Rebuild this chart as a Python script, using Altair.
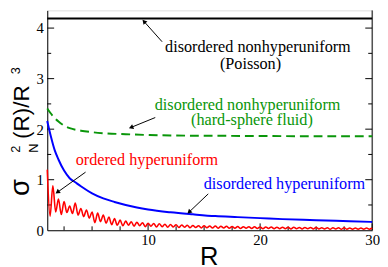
import math
import altair as alt
import pandas as pd

# ---------------- data ----------------
red_R = [1.0 + 0.25 * i for i in range(117)]
red_y = [1.20, 0.28, 0.88, 0.36, 0.62, 0.31, 0.57, 0.35, 0.48, 0.33,
         0.54, 0.30, 0.43, 0.27, 0.40, 0.24, 0.36, 0.15, 0.34, 0.17,
         0.30, 0.14, 0.26, 0.11, 0.23, 0.10, 0.20, 0.09, 0.18, 0.10,
         0.17, 0.08, 0.16, 0.09, 0.15, 0.07, 0.14, 0.08, 0.135, 0.065,
         0.13, 0.07, 0.12, 0.06, 0.115, 0.065, 0.11, 0.055, 0.105, 0.06,
         0.10, 0.05, 0.095, 0.055, 0.09, 0.045, 0.09, 0.05, 0.085, 0.045,
         0.085, 0.04, 0.08, 0.045, 0.08, 0.04, 0.075, 0.04, 0.075, 0.035,
         0.07, 0.04, 0.07, 0.035, 0.07, 0.035, 0.065, 0.03, 0.065, 0.035,
         0.065, 0.03, 0.06, 0.03, 0.06, 0.03, 0.06, 0.025, 0.06, 0.03,
         0.055, 0.025, 0.055, 0.03, 0.055, 0.025, 0.055, 0.025, 0.05, 0.025,
         0.05, 0.02, 0.05, 0.025, 0.05, 0.02, 0.05, 0.02, 0.045, 0.02,
         0.045, 0.02, 0.045, 0.02, 0.045, 0.02, 0.045]

blue_R = [1.0, 1.33, 1.67, 2.0, 2.5, 3.0, 3.5, 4.0, 5.0, 6.0, 7.0, 8.0,
          9.0, 10.0, 12.0, 14.0, 16.0, 18.0, 20.0, 22.0, 25.0, 28.0, 30.0]
blue_y = [2.16, 1.85, 1.58, 1.40, 1.18, 1.03, 0.95, 0.87, 0.73, 0.63, 0.56, 0.50,
          0.45, 0.41, 0.355, 0.315, 0.28, 0.26, 0.24, 0.22, 0.20, 0.18, 0.165]

green_R = [1.0, 1.25, 1.5, 2.0, 2.5, 3.0, 4.0, 5.0, 6.0, 8.0, 10.0, 12.0,
           15.0, 20.0, 25.0, 30.0]
green_y = [2.41, 2.33, 2.26, 2.15, 2.07, 2.02, 1.97, 1.94, 1.92, 1.90, 1.885,
           1.875, 1.87, 1.865, 1.86, 1.86]

poisson_R = [1.0, 30.0]
poisson_y = [4.19, 4.19]

x_major = [10, 20, 30]
x_minor = [2.5, 5, 7.5, 12.5, 15, 17.5, 22.5, 25, 27.5]
y_labels = [0, 1, 2, 3, 4]
y_major = [1, 2, 3, 4]
y_minor = [0.5, 1.5, 2.5, 3.5]

label_text = ["disordered nonhyperuniform", "(Poisson)",
              "disordered nonhyperuniform", "(hard-sphere fluid)",
              "ordered hyperuniform", "disordered hyperuniform"]
label_R = [19.80, 19.14, 18.88, 19.27, 9.9, 22.17]
label_y = [3.53, 3.20, 2.38, 2.09, 1.30, 0.82]
label_color = ["black", "black", "#0a960a", "#0a960a", "red", "blue"]

arrow_R0 = [11.25, 10.64, 4.42, 15.37]
arrow_y0 = [3.73, 2.23, 1.15, 0.72]
arrow_R1 = [9.68, 8.54, 1.96, 13.71]
arrow_y1 = [4.12, 2.04, 0.76, 0.37]

# ---------------- layout ----------------
W, H = 331, 224
XMIN, XMAX = 1, 30
YMIN, YMAX = 0, 4.35
SERIF = "Liberation Serif"
SANS = "Liberation Sans"

xs = alt.Scale(domain=[XMIN, XMAX], nice=False, zero=False)
ys = alt.Scale(domain=[YMIN, YMAX], nice=False, zero=False)

AXX = alt.Axis(values=x_major, ticks=False, grid=False, title=None,
               labelFont=SERIF, labelFontSize=15, labelColor="black",
               labelPadding=3, labelFlush=False, labelOverlap=False,
               domainColor="black", domainWidth=1)
AXY = alt.Axis(values=y_labels, ticks=False, grid=False, title=None,
               labelFont=SERIF, labelFontSize=15, labelColor="black",
               labelPadding=4, labelFlush=False, labelOverlap=False,
               domainColor="black", domainWidth=1)

px_x = W / (XMAX - XMIN)
px_y = H / (YMAX - YMIN)


def line_df(R, y):
    return pd.DataFrame({"R": R, "y": y})


def XF(f):
    return alt.X(f, type="quantitative", scale=xs, axis=AXX)


def YF(f):
    return alt.Y(f, type="quantitative", scale=ys, axis=AXY)


right_border = alt.Chart(line_df([XMAX], [0])).mark_rule(color="black", strokeWidth=1).encode(
    x=XF("R"), y=alt.value(0), y2=alt.value(H))

poisson = alt.Chart(line_df(poisson_R, poisson_y)).mark_line(
    color="black", strokeWidth=2).encode(x=XF("R"), y=YF("y"))
green = alt.Chart(line_df(green_R, green_y)).mark_line(
    color="#0a960a", strokeWidth=2, strokeDash=[9, 5], interpolate="monotone").encode(
    x=XF("R"), y=YF("y"))
blue = alt.Chart(line_df(blue_R, blue_y)).mark_line(
    color="blue", strokeWidth=2, interpolate="monotone").encode(x=XF("R"), y=YF("y"))
red = alt.Chart(line_df(red_R, red_y)).mark_line(
    color="red", strokeWidth=1.6, interpolate="monotone").encode(x=XF("R"), y=YF("y"))


def tick_layers(vals, axis, length):
    df = pd.DataFrame({"v": vals})
    out = []
    if axis == "x":
        out.append(alt.Chart(df).mark_rule(color="black", strokeWidth=1).encode(
            x=XF("v"), y=alt.value(H), y2=alt.value(H - length)))
    else:
        for x0, x1 in [(0, length), (W, W - length)]:
            out.append(alt.Chart(df).mark_rule(color="black", strokeWidth=1).encode(
                y=YF("v"), x=alt.value(x0), x2=alt.value(x1)))
    return out


ticks = (tick_layers(x_major, "x", 7) + tick_layers(x_minor, "x", 4)
         + tick_layers(y_major, "y", 7) + tick_layers(y_minor, "y", 4))

labels_df = pd.DataFrame({"R": label_R, "y": label_y, "t": label_text, "c": label_color})
labels = alt.Chart(labels_df).mark_text(
    font=SERIF, fontSize=16.5, align="center", baseline="alphabetic").encode(
    x=XF("R"), y=YF("y"), text="t:N", color=alt.Color("c:N", scale=None))

ang = []
for a, b, c, d in zip(arrow_R0, arrow_y0, arrow_R1, arrow_y1):
    dx = (c - a) * px_x
    dy = -(d - b) * px_y
    ang.append(math.degrees(math.atan2(dx, -dy)) % 360)
arrows_df = pd.DataFrame({"R": arrow_R0, "y": arrow_y0, "R2": arrow_R1, "y2": arrow_y1, "ang": ang})
arrow_lines = alt.Chart(arrows_df).mark_rule(color="black", strokeWidth=1).encode(
    x=XF("R"), y=YF("y"), x2="R2:Q", y2="y2:Q")
arrow_heads = alt.Chart(arrows_df).mark_point(
    shape="triangle", filled=True, color="black", size=28, opacity=1).encode(
    x=XF("R2"), y=YF("y2"), angle=alt.Angle("ang:Q", scale=None))

dummy = pd.DataFrame({"d": [0]})


def free_text(t, px, py, fs, angle=0, align="left", font=SANS):
    return alt.Chart(dummy).mark_text(
        font=font, fontSize=fs, angle=angle, align=align, baseline="alphabetic",
        color="black", text=t).encode(x=alt.value(px), y=alt.value(py))


# y-axis title: sigma^2_N(R)/R^3, rotated
ytitle = [
    free_text("σ", -19, 189, 28, 270),
    free_text("(R)/R", -19, 131, 23, 270),
    free_text("2", -28, 145, 13, 270),
    free_text("N", -9, 145, 13, 270),
    free_text("3", -28, 65, 13, 270),
]
xtitle = free_text("R", 165, 259, 26, 0, "center")

chart = alt.layer(
    right_border, *ticks, poisson, green, blue, red,
    arrow_lines, arrow_heads, labels, *ytitle, xtitle
).properties(
    width=W, height=H,
    autosize=alt.AutoSizeParams(type="none"),
    padding={"left": 40, "top": 0, "right": 8, "bottom": 35},
).configure_view(stroke=None).configure(background="white")

chart.save("out.html", embed_options={"renderer": "svg", "actions": False})
